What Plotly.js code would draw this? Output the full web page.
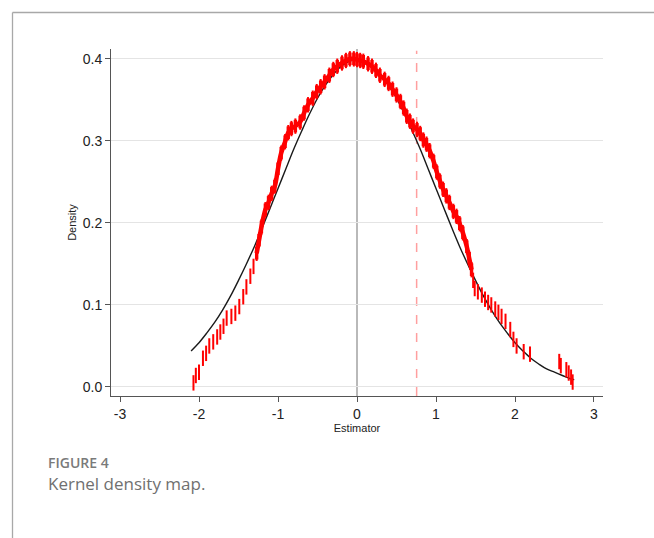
<!DOCTYPE html>
<html>
<head>
<meta charset="utf-8">
<script src="https://cdn.plot.ly/plotly-3.0.1.min.js"></script>
<style>
  html, body { margin: 0; padding: 0; background: #ffffff; }
  #chart { width: 654px; height: 538px; }
</style>
</head>
<body>
<div id="chart"></div>
<script>
// Red kernel-density estimate marks
const redX = [-2.07,-2.04,-2.00,-1.95,-1.91,-1.87,-1.82,-1.77,-1.73,-1.69,-1.65,-1.59,-1.54,-1.49,-1.44,-1.40,-1.35,-1.31,-1.27,-1.24,-1.21,-1.16,-1.12,-1.08,-1.04,-1.00,-0.96,-0.91,-0.87,-0.83,-0.78,-0.72,-0.67,-0.62,-0.56,-0.51,-0.46,-0.41,-0.35,-0.30,-0.25,-0.19,-0.14,-0.09,-0.04,0.00,0.04,0.08,0.14,0.19,0.24,0.29,0.35,0.40,0.45,0.50,0.55,0.59,0.63,0.67,0.71,0.76,0.80,0.84,0.88,0.92,0.97,1.01,1.05,1.09,1.13,1.17,1.22,1.26,1.30,1.34,1.39,1.42,1.45,1.47,1.49,1.53,1.58,1.62,1.66,1.70,1.75,1.79,1.83,1.88,1.94,1.98,2.02,2.11,2.19,2.56,2.58,2.65,2.68,2.71,2.73];
const redY = [0.005,0.014,0.018,0.035,0.041,0.050,0.055,0.061,0.067,0.074,0.084,0.086,0.090,0.098,0.110,0.122,0.135,0.147,0.163,0.179,0.195,0.216,0.225,0.236,0.245,0.266,0.285,0.299,0.310,0.315,0.318,0.323,0.334,0.344,0.352,0.360,0.366,0.372,0.380,0.387,0.391,0.395,0.398,0.400,0.400,0.399,0.398,0.397,0.394,0.391,0.386,0.380,0.375,0.370,0.363,0.356,0.348,0.340,0.330,0.324,0.318,0.314,0.309,0.301,0.296,0.288,0.275,0.262,0.251,0.241,0.233,0.225,0.214,0.208,0.199,0.188,0.171,0.157,0.143,0.130,0.120,0.116,0.112,0.107,0.103,0.100,0.095,0.091,0.086,0.080,0.070,0.058,0.050,0.043,0.040,0.031,0.026,0.021,0.017,0.012,0.006];

// Black reference density curve
const blackX = [-2.1,-2.0,-1.9,-1.8,-1.7,-1.6,-1.5,-1.4,-1.3,-1.2,-1.1,-1.0,-0.9,-0.8,-0.7,-0.6,-0.5,-0.4,-0.3,-0.2,-0.1,0.0,0.1,0.2,0.3,0.4,0.5,0.6,0.7,0.8,0.9,1.0,1.1,1.2,1.3,1.4,1.5,1.6,1.7,1.8,1.9,2.0,2.1,2.2,2.3,2.4,2.5,2.6,2.7,2.75];
const blackY = [0.044,0.054,0.066,0.079,0.094,0.111,0.130,0.150,0.171,0.194,0.218,0.242,0.266,0.290,0.312,0.333,0.352,0.368,0.381,0.391,0.397,0.399,0.397,0.391,0.381,0.368,0.352,0.333,0.312,0.290,0.266,0.242,0.218,0.194,0.171,0.150,0.130,0.111,0.094,0.079,0.066,0.054,0.044,0.035,0.028,0.022,0.018,0.014,0.010,0.009];

// Reference lines
const zeroLineX = 0;
const refLineX = 0.755;

// Tick labels
const xTickVals = [-3,-2,-1,0,1,2,3];
const xTickText = ['-3','-2','-1','0','1','2','3'];
const yTickVals = [0,0.1,0.2,0.3,0.4];
const yTickText = ['0.0','0.1','0.2','0.3','0.4'];

const xTitle = 'Estimator';
const yTitle = 'Density';
const figLabel = 'FIGURE 4';
const figCaption = 'Kernel density map.';

// dense central part drawn as a continuous band
const bandX = [], bandY = [];
redX.forEach((x, i) => { if (x >= -1.28 && x <= 1.46) { bandX.push(x); bandY.push(redY[i]); } });

const traces = [
  { x: blackX, y: blackY, type: 'scatter', mode: 'lines',
    line: { color: '#1a1a1a', width: 1.4, shape: 'spline' } },
  { x: bandX, y: bandY, type: 'scatter', mode: 'lines',
    line: { color: '#ff0000', width: 4.5, shape: 'spline' }, hoverinfo: 'skip' },
  { x: bandX, y: bandY, type: 'scatter', mode: 'markers', hoverinfo: 'skip',
    marker: { symbol: 'line-ns', size: 9, color: '#ff0000', line: { color: '#ff0000', width: 3.4 } } },
  { x: redX, y: redY, type: 'scatter', mode: 'markers',
    marker: { symbol: 'line-ns', size: 11, color: '#ff0000', line: { color: '#ff0000', width: 2 } } }
];

// plot area: px 111..603 horizontally, 49..396 vertically
const L = 111, R = 603, T = 49, B = 396;
const px2x = p => (p - L) / (R - L);
const py2y = p => (B - p) / (B - T);

const layout = {
  width: 654, height: 538,
  margin: { l: L, r: 654 - R, t: T, b: 538 - B, pad: 0 },
  paper_bgcolor: '#ffffff', plot_bgcolor: '#ffffff',
  showlegend: false,
  font: { family: '"Liberation Sans", Arial, sans-serif', color: '#222222' },
  xaxis: {
    range: [-3.114, 3.114], tickmode: 'array', tickvals: xTickVals, ticktext: xTickText,
    showgrid: false, zeroline: false,
    showline: true, linecolor: '#555555', linewidth: 1,
    ticks: 'outside', ticklen: 5, tickcolor: '#555555', tickwidth: 1,
    tickfont: { size: 14, color: '#222222' },
    title: { text: xTitle, font: { size: 11, color: '#222222' }, standoff: 1 },
    automargin: false, fixedrange: true
  },
  yaxis: {
    range: [-0.011, 0.412], tickmode: 'array', tickvals: yTickVals, ticktext: yTickText,
    showgrid: true, gridcolor: '#e4e4e4', gridwidth: 1, zeroline: false,
    showline: true, linecolor: '#555555', linewidth: 1,
    ticks: 'outside', ticklen: 5, tickcolor: '#555555', tickwidth: 1,
    tickfont: { size: 14, color: '#222222' },
    title: { text: yTitle, font: { size: 11, color: '#222222' }, standoff: 3 },
    automargin: false, fixedrange: true
  },
  shapes: [
    { type: 'line', xref: 'x', yref: 'paper', x0: zeroLineX, x1: zeroLineX, y0: 0, y1: 1,
      line: { color: '#8a8a8a', width: 1.2 }, layer: 'below' },
    { type: 'line', xref: 'x', yref: 'paper', x0: refLineX, x1: refLineX, y0: 0, y1: 0.995,
      line: { color: 'rgba(255,80,80,0.55)', width: 1.5, dash: 'dash' }, layer: 'below' },
    { type: 'line', xref: 'paper', yref: 'paper', x0: px2x(12.5), x1: px2x(660), y0: py2y(12.5), y1: py2y(12.5),
      line: { color: '#a8a8a8', width: 1.3 } },
    { type: 'line', xref: 'paper', yref: 'paper', x0: px2x(12.5), x1: px2x(12.5), y0: py2y(12.5), y1: py2y(545),
      line: { color: '#a8a8a8', width: 1.3 } }
  ],
  annotations: [
    { text: figLabel, xref: 'paper', yref: 'paper', x: px2x(46), y: py2y(462),
      xanchor: 'left', yanchor: 'middle', showarrow: false,
      font: { family: '"Open Sans", "Noto Sans", sans-serif', size: 14, color: '#7a7a7a', weight: 600 } },
    { text: figCaption, xref: 'paper', yref: 'paper', x: px2x(46), y: py2y(483),
      xanchor: 'left', yanchor: 'middle', showarrow: false,
      font: { family: '"Open Sans", "Noto Sans", sans-serif', size: 17, color: '#707070' } }
  ]
};

Plotly.newPlot('chart', traces, layout, { staticPlot: true, displayModeBar: false });
</script>
</body>
</html>
